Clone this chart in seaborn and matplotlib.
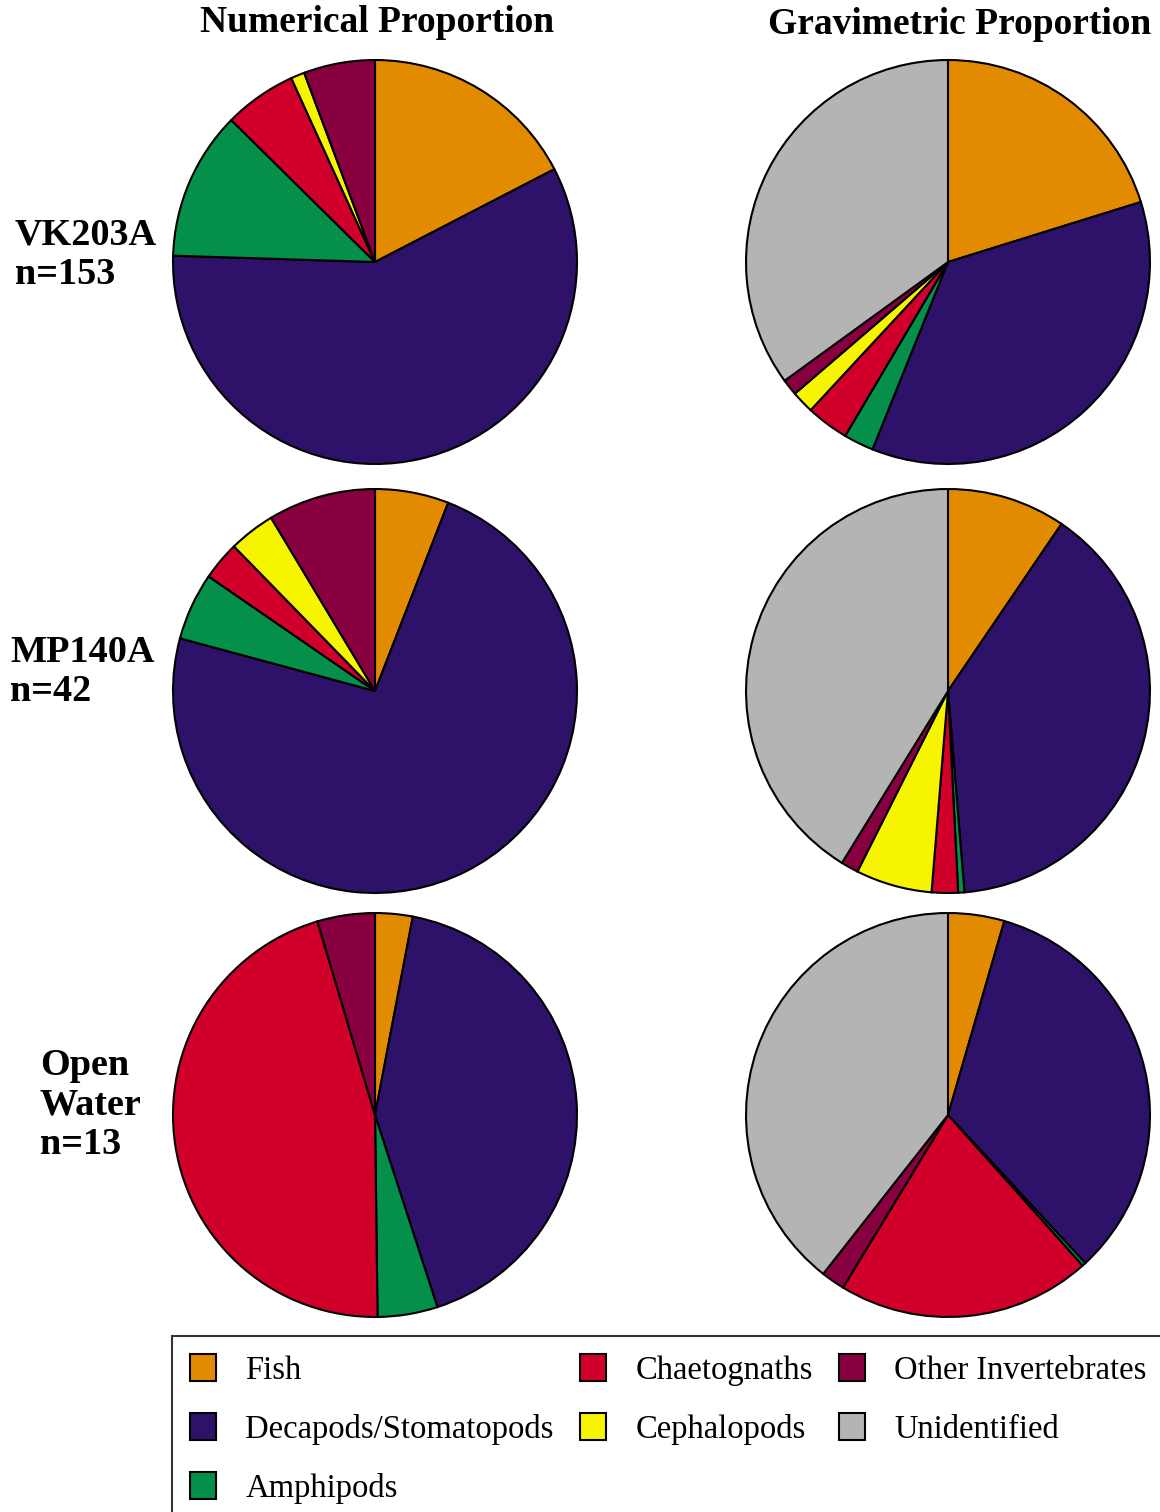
import matplotlib
matplotlib.use("Agg")
import matplotlib.pyplot as plt
import seaborn as sns
from matplotlib.patches import Patch

# diet data (percent), clockwise from the top
prey = ["Fish", "Decapods/Stomatopods", "Amphipods", "Chaetognaths",
        "Cephalopods", "Other Invertebrates", "Unidentified"]
colors = ["#E38B00", "#2E1169", "#04904A", "#D0002A",
          "#F7F400", "#880040", "#B4B4B4"]

sites = ["VK203A\nn=153", "MP140A\nn=42", "Open\nWater\nn=13"]

num_vk = [17.4, 58.1, 11.9, 5.8, 1.1, 5.7, 0]
num_mp = [5.9, 73.3, 5.4, 3.1, 3.7, 8.6, 0]
num_ow = [3.0, 42.0, 4.8, 45.6, 0, 4.6, 0]

grav_vk = [20.2, 35.9, 2.4, 3.4, 1.8, 1.3, 35.0]
grav_mp = [9.5, 39.2, 0.5, 2.1, 6.1, 1.4, 41.2]
grav_ow = [4.5, 33.6, 0.3, 20.3, 0, 1.9, 39.4]

numerical = [num_vk, num_mp, num_ow]
gravimetric = [grav_vk, grav_mp, grav_ow]

sns.set_theme(style="white")
plt.rcParams["font.family"] = ["Liberation Serif", "DejaVu Serif"]
plt.rcParams["text.color"] = "black"

W, H = 1160, 1512
fig = plt.figure(figsize=(W / 100, H / 100), dpi=100)

row_y = [262, 691, 1115]
col_x = [375, 948]
R = 204


def pie_at(cx, cy, vals):
    ax = fig.add_axes([(cx - R) / W, 1 - (cy + R) / H, 2 * R / W, 2 * R / H])
    v = [x for x in vals if x > 0]
    c = [col for x, col in zip(vals, colors) if x > 0]
    ax.pie(v, colors=c, startangle=90, counterclock=False, radius=1,
           wedgeprops=dict(edgecolor="black", linewidth=1.5))
    ax.set_xlim(-1.01, 1.01)
    ax.set_ylim(-1.01, 1.01)
    ax.axis("off")


for i in range(3):
    pie_at(col_x[0], row_y[i], numerical[i])
    pie_at(col_x[1], row_y[i], gravimetric[i])

fig.text(377 / W, 1 - 22 / H, "Numerical Proportion", ha="center", va="center",
         fontsize=27, fontweight="bold")
fig.text(960 / W, 1 - 25 / H, "Gravimetric Proportion", ha="center", va="center",
         fontsize=27, fontweight="bold")

label_pos = [(15, 255), (10, 672), (40, 1105)]
for (lx, ly), s in zip(label_pos, sites):
    fig.text(lx / W, 1 - ly / H, s, ha="left", va="center", fontsize=27.5,
             fontweight="bold", linespacing=1.15)

handles = [Patch(facecolor=c, edgecolor="black", linewidth=1.5) for c in colors]
leg = fig.legend(handles, prey, loc="upper left",
                 bbox_to_anchor=(172 / W, 1 - 1336 / H), ncol=3,
                 fontsize=23.5, frameon=True, fancybox=False,
                 handlelength=0.8, handleheight=0.9, handletextpad=0.9,
                 columnspacing=0.8, labelspacing=0.84, borderpad=0.55,
                 borderaxespad=0)
leg.get_frame().set_edgecolor("black")
leg.get_frame().set_linewidth(1.5)

fig.savefig("out.png", dpi=100, facecolor="white")
